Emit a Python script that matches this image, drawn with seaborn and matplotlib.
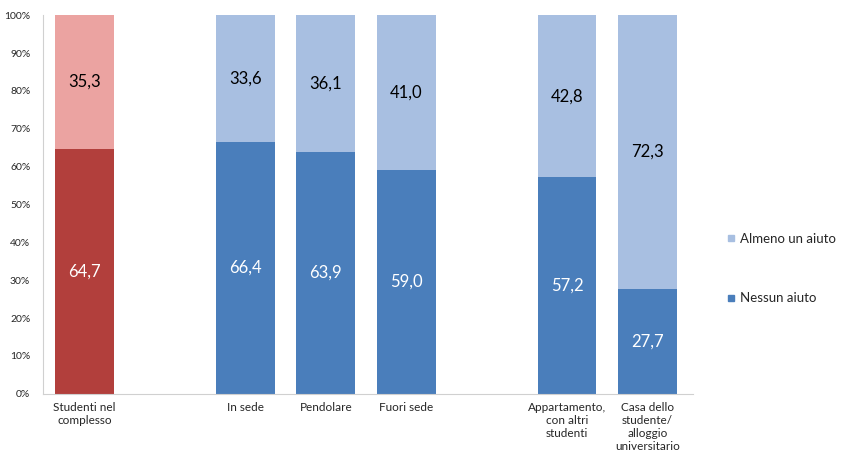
import matplotlib
matplotlib.use("Agg")
import matplotlib.pyplot as plt
from matplotlib.lines import Line2D
import seaborn as sns
import pandas as pd

# categories and values (percent)
categories = ["Studenti nel\ncomplesso", "In sede", "Pendolare", "Fuori sede",
              "Appartamento,\ncon altri\nstudenti",
              "Casa dello\nstudente/\nalloggio\nuniversitario"]
positions = [0, 2, 3, 4, 6, 7]
nessun_aiuto = [64.7, 66.4, 63.9, 59.0, 57.2, 27.7]
almeno_un_aiuto = [35.3, 33.6, 36.1, 41.0, 42.8, 72.3]

dark_cols = ["#B23F3C", "#4A7EBB", "#4A7EBB", "#4A7EBB", "#4A7EBB", "#4A7EBB"]
light_cols = ["#EBA3A1", "#A8BFE1", "#A8BFE1", "#A8BFE1", "#A8BFE1", "#A8BFE1"]

sns.set_style("white")
plt.rcParams["font.family"] = ["Lato", "DejaVu Sans"]

df = pd.DataFrame({"pos": positions, "bottom": nessun_aiuto,
                   "total": [a + b for a, b in zip(nessun_aiuto, almeno_un_aiuto)]})

fig = plt.figure(figsize=(8.55, 4.75), dpi=100)
ax = fig.add_axes([0.050, 0.171, 0.760, 0.797])

# full bar (light) first, then the bottom segment on top of it
sns.barplot(data=df, x="pos", y="total", hue="pos", palette=light_cols,
            native_scale=True, width=0.73, legend=False, ax=ax, saturation=1,
            linewidth=0)
sns.barplot(data=df, x="pos", y="bottom", hue="pos", palette=dark_cols,
            native_scale=True, width=0.73, legend=False, ax=ax, saturation=1,
            linewidth=0)

for p, lo, hi in zip(positions, nessun_aiuto, almeno_un_aiuto):
    ax.text(p, lo / 2, f"{lo:.1f}".replace(".", ","), ha="center", va="center",
            color="white", fontsize=12)
    ax.text(p, lo + hi / 2, f"{hi:.1f}".replace(".", ","), ha="center", va="center",
            color="black", fontsize=12)

ax.set_xlim(-0.52, 7.56)
ax.set_ylim(0, 100)
ax.set_xticks(positions)
ax.set_xticklabels(categories, fontsize=8.5)
ax.set_yticks(range(0, 101, 10))
ax.set_yticklabels([f"{v}%" for v in range(0, 101, 10)], fontsize=7.5)
ax.set_xlabel("")
ax.set_ylabel("")
ax.tick_params(axis="x", length=0, pad=6)
ax.tick_params(axis="y", length=3, color="#D0D0D0", pad=6)

for s in ["top", "right"]:
    ax.spines[s].set_visible(False)
for s in ["left", "bottom"]:
    ax.spines[s].set_color("#D0D0D0")
    ax.spines[s].set_linewidth(0.8)

handles = [Line2D([], [], marker="s", linestyle="", color="#A8BFE1", markersize=5),
           Line2D([], [], marker="s", linestyle="", color="#4A7EBB", markersize=5)]
fig.legend(handles, ["Almeno un aiuto", "Nessun aiuto"], loc="center left",
           bbox_to_anchor=(0.835, 0.435), frameon=False, fontsize=9.5,
           labelspacing=3.6, handletextpad=0.3, handlelength=0.8)

fig.savefig("out.png", dpi=100)
